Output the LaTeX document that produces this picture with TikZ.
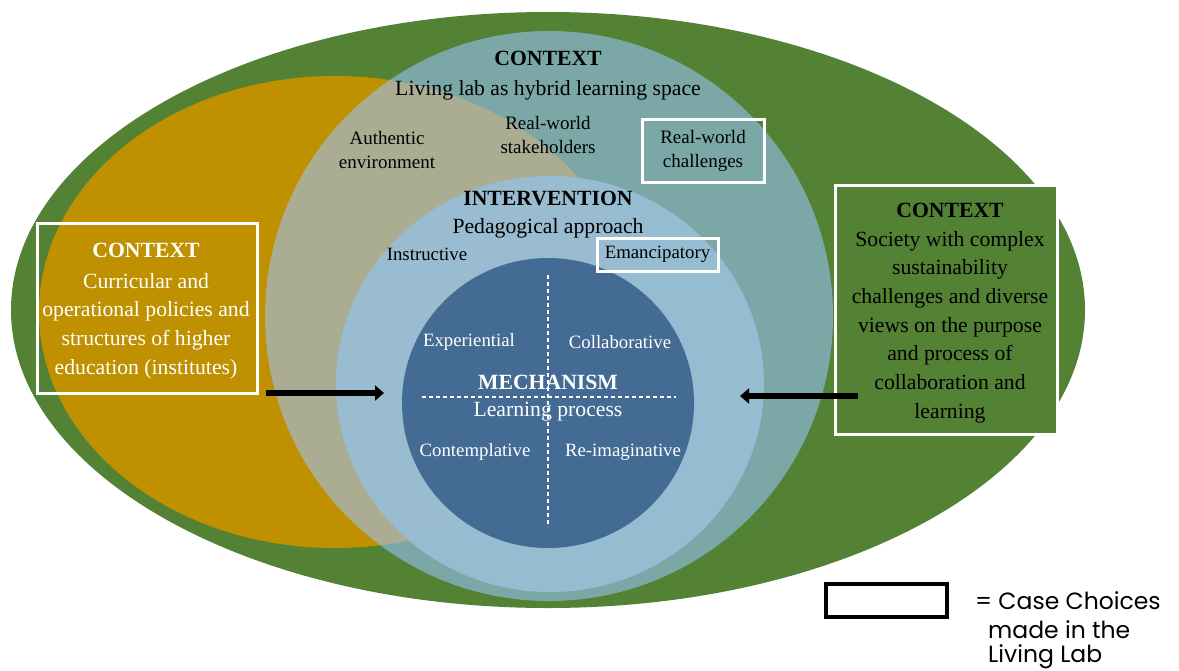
\documentclass[tikz,border=0pt]{standalone}
\usepackage{fontspec}
\setmainfont{Liberation Serif}
\newfontfamily\legendfont{Poppins}
\usetikzlibrary{arrows.meta}
\definecolor{outergreen}{RGB}{84,130,53}
\definecolor{gold}{RGB}{191,144,0}
\definecolor{skyblue}{RGB}{155,196,255}
\definecolor{paleblue}{RGB}{152,190,214}
\definecolor{deepblue}{RGB}{67,107,147}
\begin{document}
\begin{tikzpicture}[x=1pt,y=-1pt,
  every node/.style={inner sep=0pt},
  hdtext/.style={font=\bfseries\fontsize{21.7}{26}\selectfont},
  bigtext/.style={font=\fontsize{21.7}{28.7}\selectfont, align=center},
  midtext/.style={font=\fontsize{19}{24}\selectfont, align=center},
  smalltext/.style={font=\fontsize{18.8}{24}\selectfont, align=center},
  choice/.style={draw=white, line width=3pt},
  bigarrow/.style={line width=6.5pt, -{Triangle[length=9pt,width=15pt]}},
  quarter/.style={draw=white, line width=1.4pt, dash pattern=on 4pt off 3pt},
  legendtext/.style={font=\legendfont\fontsize{23.5}{28}\selectfont, anchor=west}
]
% canvas
\fill[white] (0,0) rectangle (1179,670);
\useasboundingbox (0,0) rectangle (1179,670);

% nested context / intervention / mechanism layers
\fill[outergreen] (548,310) ellipse [x radius=537pt, y radius=298pt];
\fill[gold] (335,312) ellipse [x radius=296pt, y radius=236pt];
\fill[skyblue, fill opacity=0.57] (549,316) ellipse [x radius=284pt, y radius=285pt];
\fill[paleblue, fill opacity=0.93] (550,384) ellipse [x radius=214pt, y radius=208pt];
\fill[deepblue] (548,403) ellipse [x radius=146pt, y radius=145pt];

% quadrant dividers of the learning process
\coordinate (vtop) at (548,275);
\coordinate (vbot) at (548,527);
\coordinate (hleft) at (422,397);
\coordinate (hright) at (676,397);
\draw[quarter] (vtop) -- (vbot);
\draw[quarter] (hleft) -- (hright);

% living lab context
\node[hdtext] (ctxtop) at (548,58) {CONTEXT};
\node[bigtext] (lls) at (548,90) {Living lab as hybrid learning space};
\node[midtext] (auth) at (387,150) {Authentic\\environment};
\node[midtext] (stake) at (548,135) {Real-world\\stakeholders};
\node[midtext, choice, minimum width=122pt, minimum height=63pt] (chal) at (703,150.5) {Real-world\\challenges};

% pedagogical intervention
\node[hdtext] (interv) at (548,198) {INTERVENTION};
\node[bigtext] (ped) at (548,228) {Pedagogical approach};
\node[smalltext] (instr) at (427,254) {Instructive};
\node[smalltext, choice, minimum width=121pt, minimum height=33pt] (emanc) at (657.5,254.5) {Emancipatory};

% learning mechanism
\node[smalltext, text=white] (expq) at (469,342) {Experiential};
\node[smalltext, text=white] (colq) at (620,342) {Collaborative};
\node[hdtext, text=white] (mech) at (548,382) {MECHANISM};
\node[bigtext, text=white] (lproc) at (548,411.5) {Learning process};
\node[smalltext, text=white] (conq) at (475,452) {Contemplative};
\node[smalltext, text=white] (reiq) at (623,452) {Re-imaginative};

% institutional context
\node[choice, minimum width=220pt, minimum height=170pt] (leftctx) at (147,308) {};
\node[bigtext, text=white] (leftctxtext) at (146,311)
  {\textbf{CONTEXT}\\[2pt]Curricular and\\operational policies and\\structures of higher\\education (institutes)};

% societal context
\node[choice, fill=outergreen, minimum width=222pt, minimum height=249pt] (rightctx) at (946,309.5) {};
\node[bigtext] (rightctxtext) at (950,313)
  {\textbf{CONTEXT}\\Society with complex\\sustainability\\challenges and diverse\\views on the purpose\\and process of\\collaboration and\\learning};

% influence arrows
\coordinate (instA) at (266,393);
\coordinate (instB) at (384,393);
\coordinate (socA) at (858,396);
\coordinate (socB) at (740,396);
\draw[bigarrow] (instA) -- (instB);
\draw[bigarrow] (socA) -- (socB);

% legend
\node[draw=black, line width=3.5pt, fill=white, minimum width=121pt, minimum height=33pt] (legbox) at (886.5,600.5) {};
\node[legendtext] (leg1) at (975,601) {= Case Choices};
\node[legendtext] (leg2) at (988,630) {made in the};
\node[legendtext] (leg3) at (988,657) {Living Lab};
\end{tikzpicture}
\end{document}
